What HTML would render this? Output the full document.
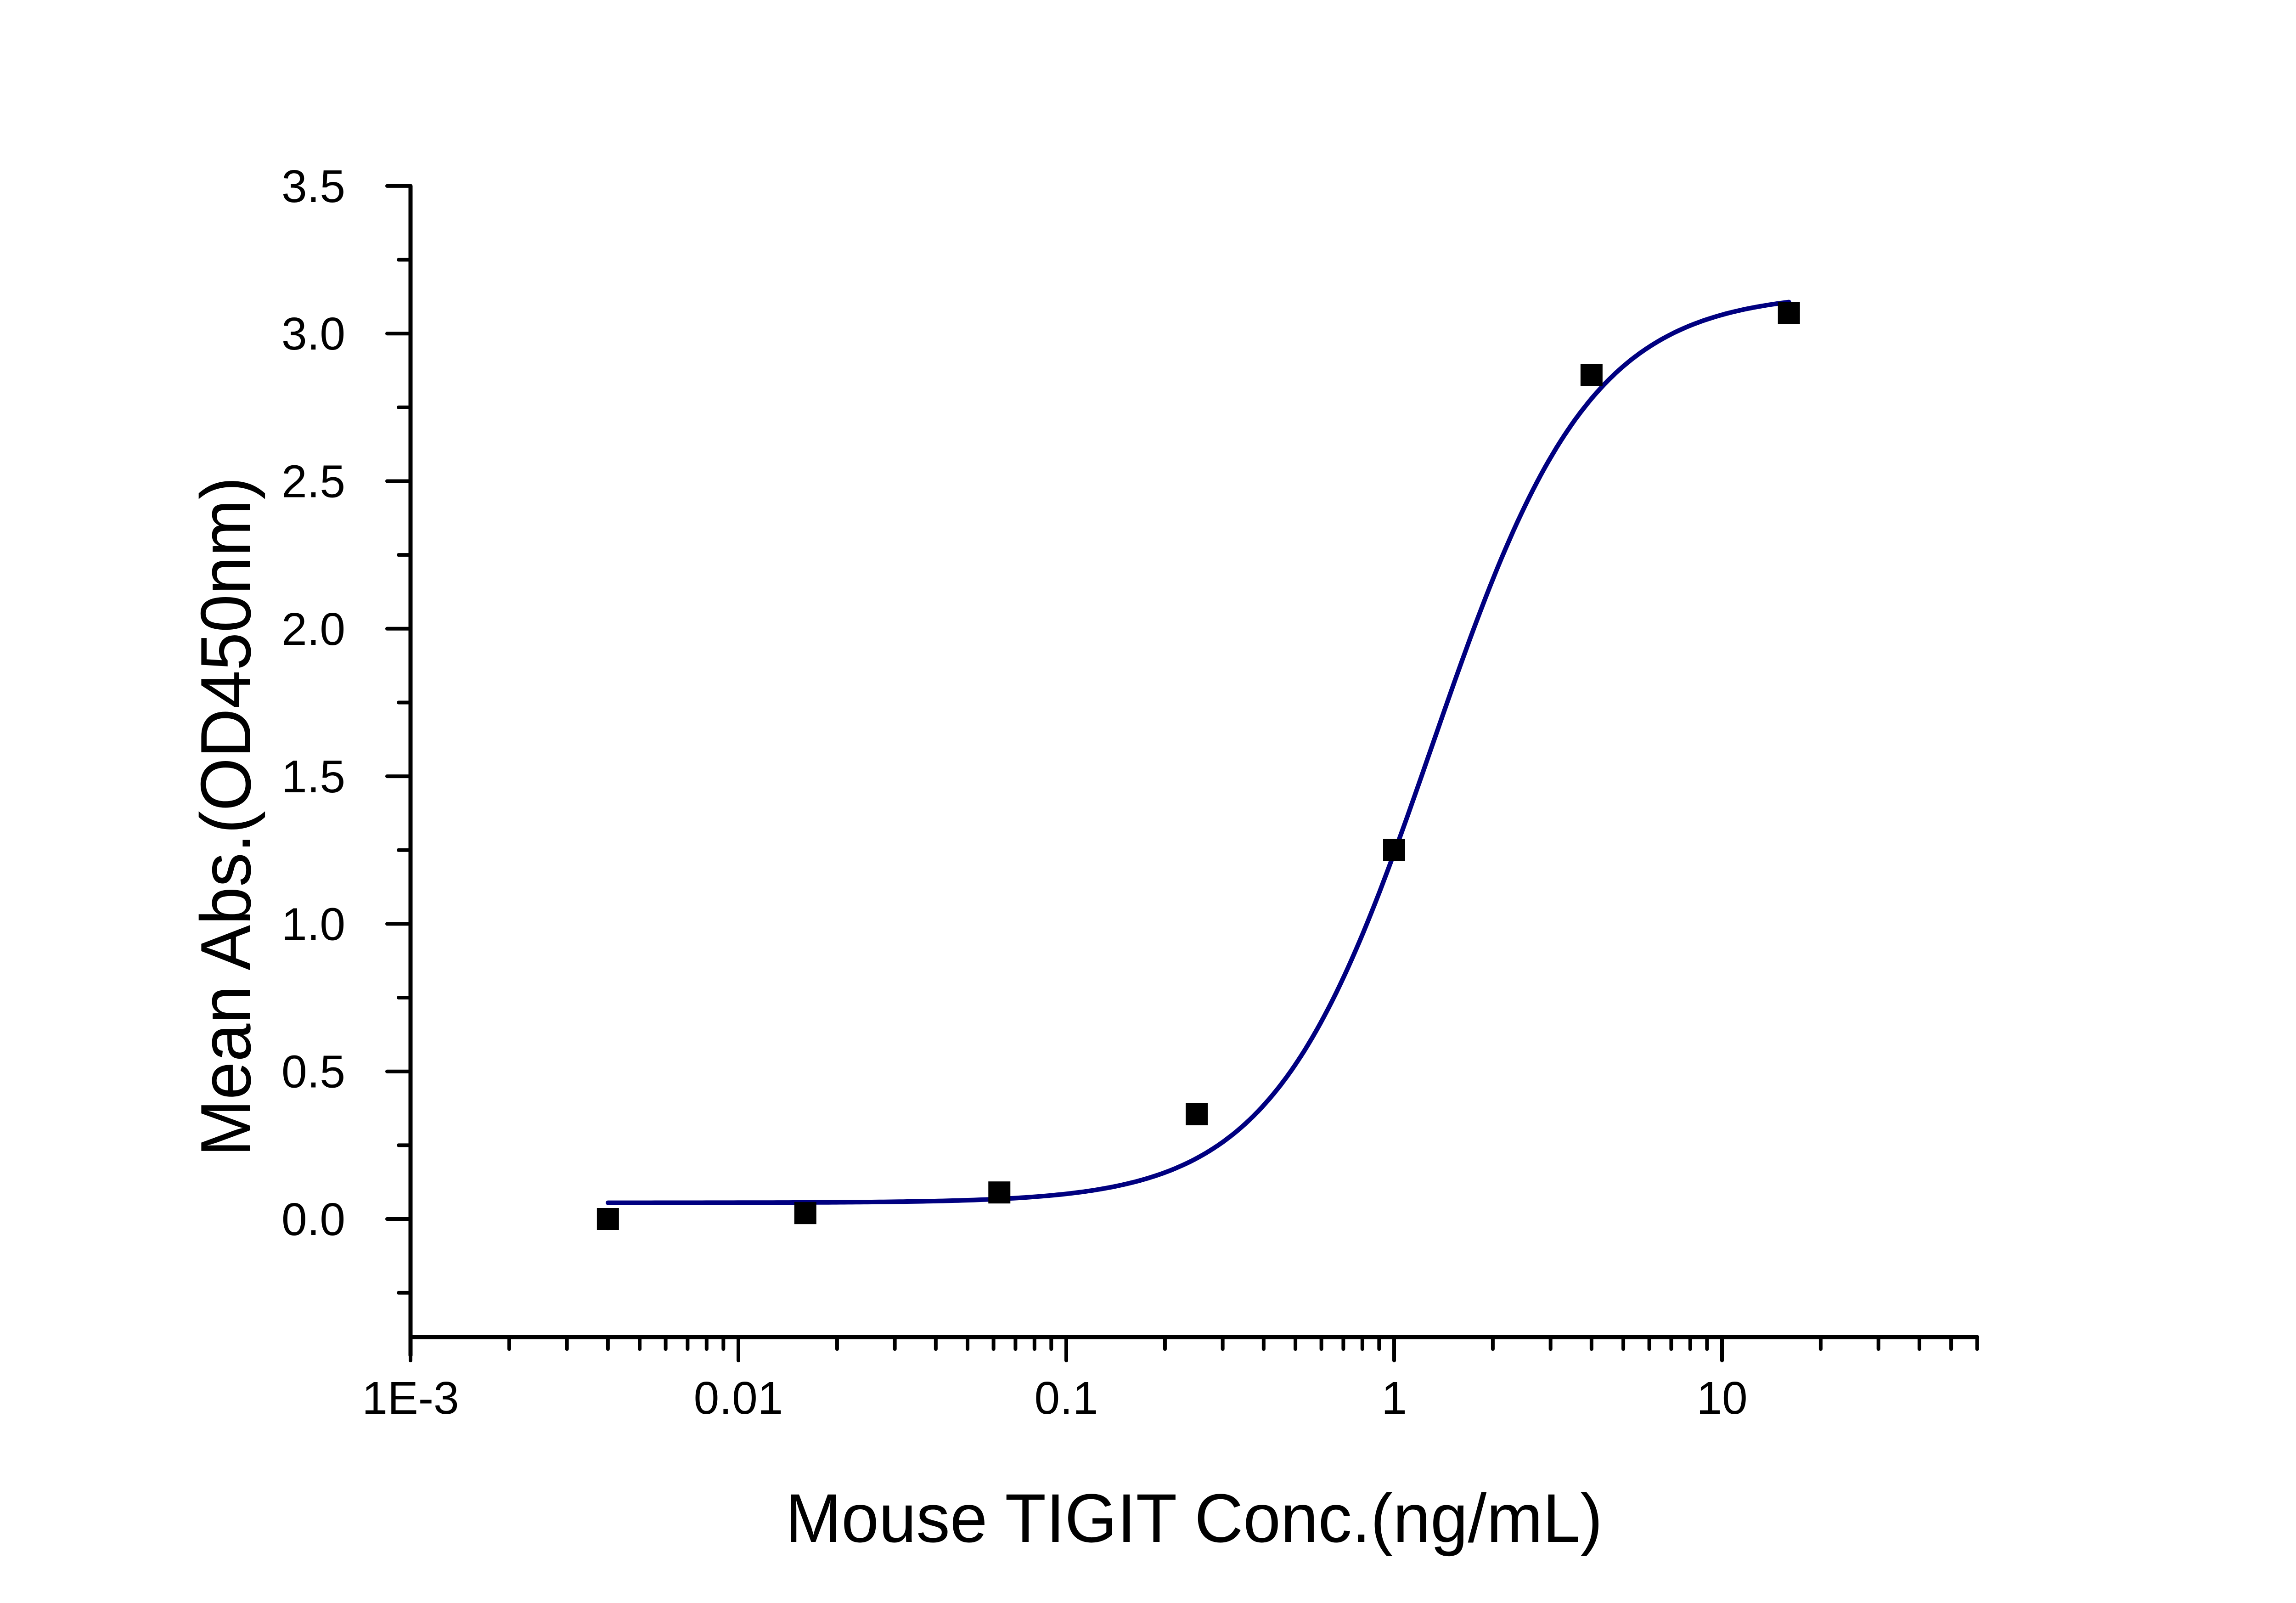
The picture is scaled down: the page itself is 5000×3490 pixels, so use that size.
<!DOCTYPE html>
<html><head><meta charset="utf-8"><style>
html,body{margin:0;padding:0;background:#fff}
svg{display:block}
text{font-family:"Liberation Sans",sans-serif;fill:#000}
</style></head><body>
<svg id="chart" width="5000" height="3490" viewBox="0 0 5000 3490" xmlns="http://www.w3.org/2000/svg">
<rect x="0" y="0" width="5000" height="3490" fill="#fff"/>
<g id="axes"></g>
<g id="curve"></g>
<g id="points"></g>
<text x="2600" y="3357" font-size="150" text-anchor="middle" textLength="1780" lengthAdjust="spacingAndGlyphs">Mouse TIGIT Conc.(ng/mL)</text>
<text transform="translate(545,1778) rotate(-90)" font-size="155" text-anchor="middle" textLength="1480" lengthAdjust="spacingAndGlyphs">Mean Abs.(OD450nm)</text>
</svg>
<script>
const xValues = [0.004, 0.016, 0.0625, 0.25, 1, 4, 16];
const yValues = [0.0, 0.02, 0.09, 0.355, 1.25, 2.86, 3.07];
const yTickValues = [0, 0.5, 1.0, 1.5, 2.0, 2.5, 3.0, 3.5];
const yTickLabels = ["0.0", "0.5", "1.0", "1.5", "2.0", "2.5", "3.0", "3.5"];
const xTickValues = [0.001, 0.01, 0.1, 1, 10];
const xTickLabels = ["1E-3", "0.01", "0.1", "1", "10"];
const fitBottom = [0.055];
const fitTop = [3.14];
const fitEC50 = [1.3];
const fitHill = [1.8];
const fitRange = [0.004, 16];

const NS = "http://www.w3.org/2000/svg";
const X0 = 894, DEC = 714, YZ = 2654, YU = 642.6;
const xMin = 0.001, xMax = 60, yMin = -0.4, yMax = 3.5;
function sx(v){ return X0 + DEC * (Math.log10(v) - Math.log10(xMin)); }
function sy(v){ return YZ - YU * v; }
function mk(tag, attrs, parent){ const e = document.createElementNS(NS, tag); for (const k in attrs) e.setAttribute(k, attrs[k]); parent.appendChild(e); return e; }

const axes = document.getElementById('axes');
const yl = mk('line', {x1:X0, y1:sy(yMax), x2:X0, y2:sy(yMin)+40, stroke:'#000','stroke-width':9,'stroke-linecap':'round'}, axes);


const xl = mk('line', {x1:X0, y1:sy(yMin), x2:sx(xMax), y2:sy(yMin), stroke:'#000','stroke-width':9,'stroke-linecap':'round'}, axes);



// y ticks
yTickValues.forEach((v,i)=>{
  const t = mk('line', {x1:X0-51, y1:sy(v), x2:X0, y2:sy(v), stroke:'#000','stroke-width':8,'stroke-linecap':'round'}, axes);
  
  
  const lb = mk('text', {x:752, y:sy(v)+35, 'font-size':100, 'text-anchor':'end'}, axes);
  lb.textContent = yTickLabels[i];
  
  
});
for (let v = -0.25; v < yMax; v += 0.5) {
  const t = mk('line', {x1:X0-26, y1:sy(v), x2:X0, y2:sy(v), stroke:'#000','stroke-width':8,'stroke-linecap':'round'}, axes);
  
  
}
// x ticks
xTickValues.forEach((v,i)=>{
  const t = mk('line', {x1:sx(v), y1:sy(yMin), x2:sx(v), y2:sy(yMin)+51, stroke:'#000','stroke-width':8,'stroke-linecap':'round'}, axes);
  
  
  const lb = mk('text', {x:sx(v), y:3078, 'font-size':100, 'text-anchor':'middle'}, axes);
  lb.textContent = xTickLabels[i];
  
  
});
for (let d = -3; d <= 1; d++) {
  for (let m = 2; m <= 9; m++) {
    const v = m * Math.pow(10, d);
    if (v > xMax + 1e-9) break;
    const t = mk('line', {x1:sx(v), y1:sy(yMin), x2:sx(v), y2:sy(yMin)+26, stroke:'#000','stroke-width':8,'stroke-linecap':'round'}, axes);
    
    
  }
}

// fit curve
const cg = document.getElementById('curve');
let d = '';
const N = 300;
for (let i = 0; i <= N; i++) {
  const lx = Math.log10(fitRange[0]) + (Math.log10(fitRange[1]) - Math.log10(fitRange[0])) * i / N;
  const x = Math.pow(10, lx);
  const y = fitTop[0] + (fitBottom[0] - fitTop[0]) / (1 + Math.pow(x / fitEC50[0], fitHill[0]));
  d += (i ? 'L' : 'M') + sx(x).toFixed(1) + ',' + sy(y).toFixed(1);
}
const path = mk('path', {d:d, fill:'none', stroke:'#000080', 'stroke-width':10, 'stroke-linecap':'round', 'stroke-linejoin':'round'}, cg);



// points
const pg = document.getElementById('points');
xValues.forEach((x,i)=>{
  const r = mk('rect', {x:sx(x)-24, y:sy(yValues[i])-24, width:48, height:48, fill:'#000'}, pg);
  
  
});
</script>
</body></html>
